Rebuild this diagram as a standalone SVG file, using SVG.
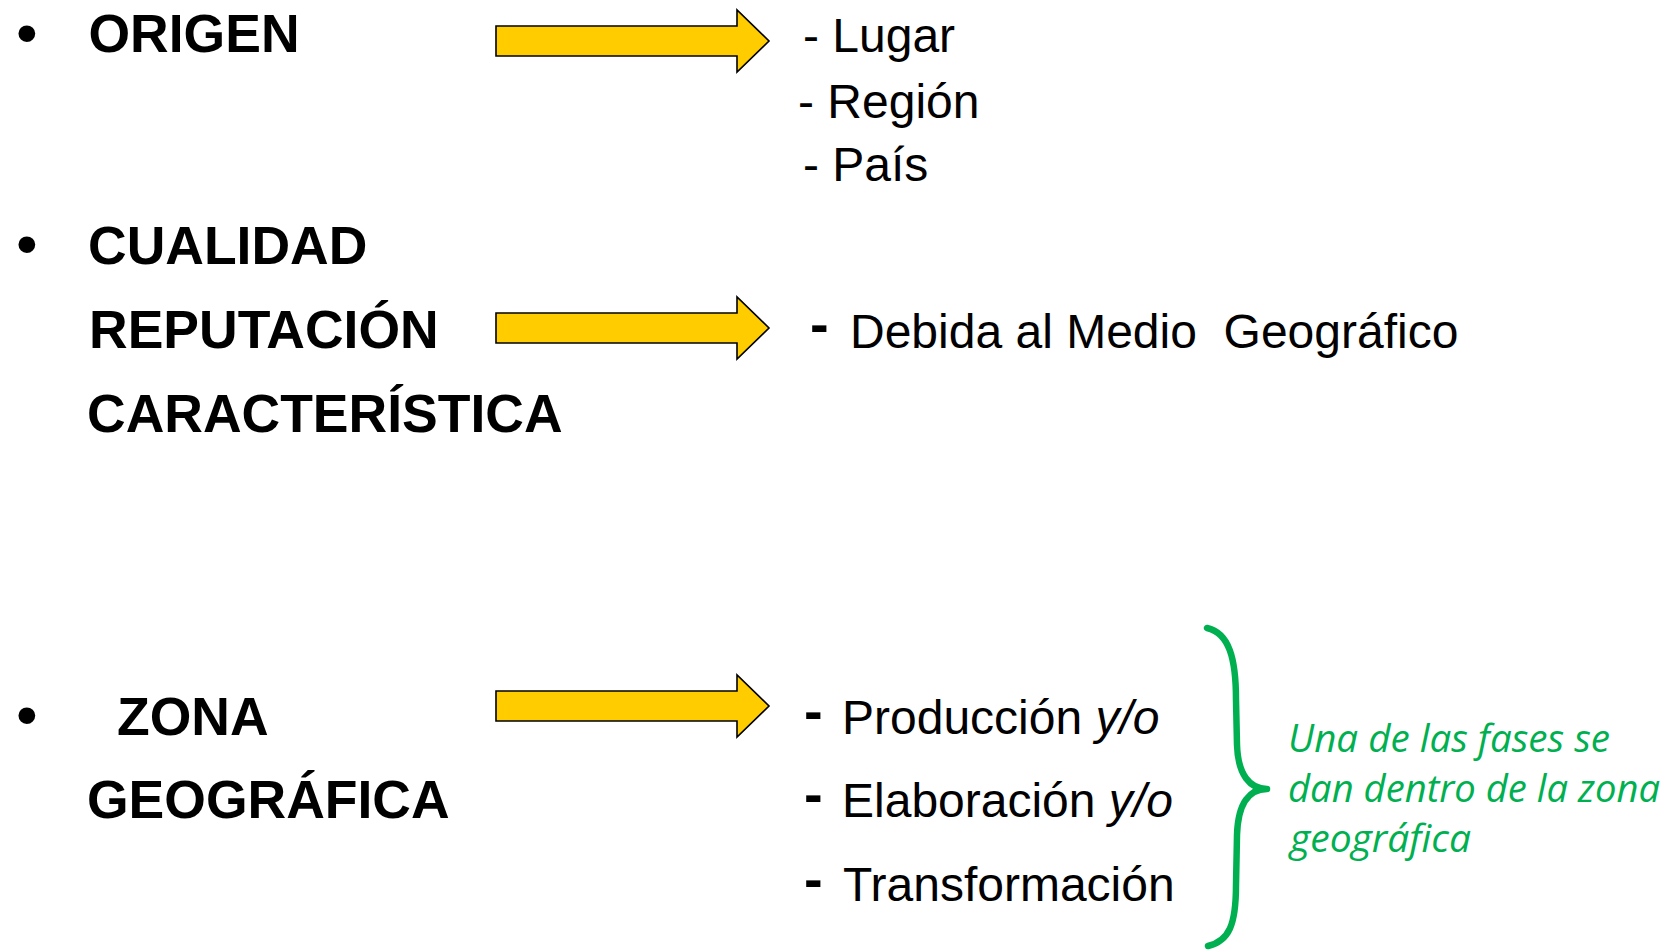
<svg xmlns="http://www.w3.org/2000/svg" width="1670" height="950" viewBox="0 0 1670 950">
<style>
  .bul{font-family:"Liberation Sans",Arial,sans-serif;font-size:62px;fill:#000}
  .head{font-family:"Liberation Sans",Arial,sans-serif;font-weight:bold;font-size:53.5px;fill:#000}
  .item{font-family:"Liberation Sans",Arial,sans-serif;font-size:48px;fill:#000;white-space:pre}
  .dash{font-family:"Liberation Sans",Arial,sans-serif;font-weight:bold;font-size:56px;fill:#000}
  .note{font-family:"Open Sans","Noto Sans",sans-serif;font-style:italic;font-size:37.5px;fill:#00B050}
  .arrow{fill:#FFCC00;stroke:#000;stroke-width:1.6;stroke-linejoin:miter}
  .brace{fill:none;stroke:#00B050;stroke-width:6.5;stroke-linecap:round;stroke-linejoin:round}
</style>
<rect width="1670" height="950" fill="#fff"/>
<g id="origen">
  <text class="bul" x="16" y="54">•</text>
  <text class="head" x="88.5" y="52">ORIGEN</text>
</g>
<g id="origen-items">
  <text class="item" x="803" y="52">- Lugar</text>
  <text class="item" x="798" y="118">- Región</text>
  <text class="item" x="803" y="181">- País</text>
</g>
<g id="cualidad">
  <text class="bul" x="16" y="265">•</text>
  <text class="head" x="88" y="264">CUALIDAD</text>
  <text class="head" x="89" y="348">REPUTACIÓN</text>
  <text class="head" x="87" y="432">CARACTERÍSTICA</text>
</g>
<g id="medio">
  <text class="dash" x="810" y="343">-</text>
  <text class="item" x="850" y="348">Debida al Medio  Geográfico</text>
</g>
<g id="zona">
  <text class="bul" x="16" y="735.5">•</text>
  <text class="head" x="117" y="735">ZONA</text>
  <text class="head" x="87" y="818">GEOGRÁFICA</text>
</g>
<g id="fases">
  <text class="dash" x="804" y="730">-</text>
  <text class="item" x="842" y="734">Producción <tspan font-style="italic">y/o</tspan></text>
  <text class="dash" x="804" y="813">-</text>
  <text class="item" x="842" y="817">Elaboración <tspan font-style="italic">y/o</tspan></text>
  <text class="dash" x="804" y="898">-</text>
  <text class="item" x="843" y="901">Transformación</text>
</g>
<g id="nota">
  <text class="note" x="1288" y="752" textLength="322" lengthAdjust="spacingAndGlyphs">Una de las fases se</text>
  <text class="note" x="1288" y="802" textLength="372" lengthAdjust="spacingAndGlyphs">dan dentro de la zona</text>
  <text class="note" x="1290" y="852" textLength="181" lengthAdjust="spacingAndGlyphs">geográfica</text>
</g>
<g id="connectors">
  <path class="arrow" d="M496,26 L737,26 L737,10 L769,41 L737,72 L737,56 L496,56 Z"/>
  <path class="arrow" d="M496,313 L737,313 L737,297 L769,328 L737,359 L737,343 L496,343 Z"/>
  <path class="arrow" d="M496,691 L737,691 L737,675 L769,706 L737,737 L737,721 L496,721 Z"/>
  <path class="brace" d="M1207,628 C1229,633 1236,658 1236,700 L1237,745 C1238,775 1250,789 1267,789 C1250,789 1238,802 1237,835 L1236,885 C1236,925 1229,941 1208,946"/>
</g>
</svg>
